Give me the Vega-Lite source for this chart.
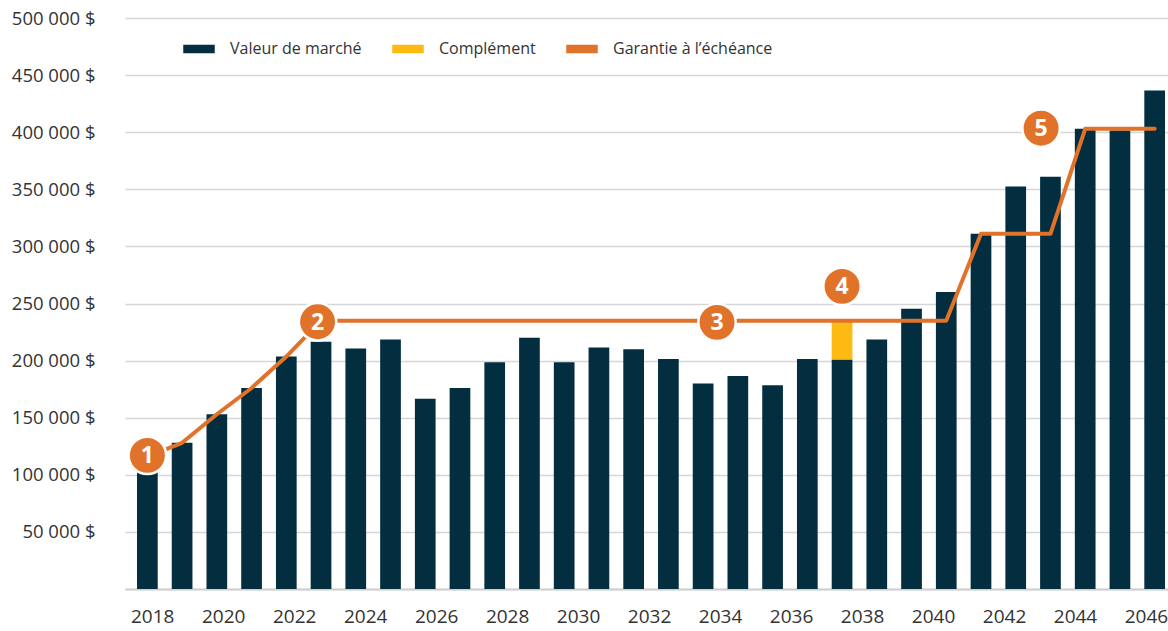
{
  "$schema": "https://vega.github.io/schema/vega-lite/v6.json",
  "width": 1043,
  "height": 571,
  "autosize": {"type": "none"},
  "padding": {"left": 125, "top": 18, "right": 0, "bottom": 42},
  "background": "white",
  "config": {
    "view": {"stroke": null},
    "font": "Open Sans",
    "axis": {"labelFont": "Open Sans", "labelColor": "#333333", "title": null},
    "legend": {"labelFont": "Open Sans"}
  },
  "datasets": {
    "barres": [
      {"annee": 2018, "serie": "Valeur de marché", "ordre": 1, "valeur": 102000},
      {"annee": 2019, "serie": "Valeur de marché", "ordre": 1, "valeur": 128000},
      {"annee": 2020, "serie": "Valeur de marché", "ordre": 1, "valeur": 153000},
      {"annee": 2021, "serie": "Valeur de marché", "ordre": 1, "valeur": 176000},
      {"annee": 2022, "serie": "Valeur de marché", "ordre": 1, "valeur": 203500},
      {"annee": 2023, "serie": "Valeur de marché", "ordre": 1, "valeur": 216500},
      {"annee": 2024, "serie": "Valeur de marché", "ordre": 1, "valeur": 210500},
      {"annee": 2025, "serie": "Valeur de marché", "ordre": 1, "valeur": 218500},
      {"annee": 2026, "serie": "Valeur de marché", "ordre": 1, "valeur": 166500},
      {"annee": 2027, "serie": "Valeur de marché", "ordre": 1, "valeur": 176000},
      {"annee": 2028, "serie": "Valeur de marché", "ordre": 1, "valeur": 198500},
      {"annee": 2029, "serie": "Valeur de marché", "ordre": 1, "valeur": 220000},
      {"annee": 2030, "serie": "Valeur de marché", "ordre": 1, "valeur": 198500},
      {"annee": 2031, "serie": "Valeur de marché", "ordre": 1, "valeur": 211500},
      {"annee": 2032, "serie": "Valeur de marché", "ordre": 1, "valeur": 210000},
      {"annee": 2033, "serie": "Valeur de marché", "ordre": 1, "valeur": 201500},
      {"annee": 2034, "serie": "Valeur de marché", "ordre": 1, "valeur": 180000},
      {"annee": 2035, "serie": "Valeur de marché", "ordre": 1, "valeur": 186500},
      {"annee": 2036, "serie": "Valeur de marché", "ordre": 1, "valeur": 178500},
      {"annee": 2037, "serie": "Valeur de marché", "ordre": 1, "valeur": 201500},
      {"annee": 2038, "serie": "Valeur de marché", "ordre": 1, "valeur": 201000},
      {"annee": 2038, "serie": "Complément", "ordre": 2, "valeur": 34000},
      {"annee": 2039, "serie": "Valeur de marché", "ordre": 1, "valeur": 218500},
      {"annee": 2040, "serie": "Valeur de marché", "ordre": 1, "valeur": 245500},
      {"annee": 2041, "serie": "Valeur de marché", "ordre": 1, "valeur": 260000},
      {"annee": 2042, "serie": "Valeur de marché", "ordre": 1, "valeur": 311000},
      {"annee": 2043, "serie": "Valeur de marché", "ordre": 1, "valeur": 352500},
      {"annee": 2044, "serie": "Valeur de marché", "ordre": 1, "valeur": 361000},
      {"annee": 2045, "serie": "Valeur de marché", "ordre": 1, "valeur": 403000},
      {"annee": 2046, "serie": "Valeur de marché", "ordre": 1, "valeur": 401500},
      {"annee": 2047, "serie": "Valeur de marché", "ordre": 1, "valeur": 436500}
    ],
    "garantie": [
      {"annee": 2018, "valeur": 116000},
      {"annee": 2019, "valeur": 128000},
      {"annee": 2020, "valeur": 153000},
      {"annee": 2021, "valeur": 176000},
      {"annee": 2022, "valeur": 203500},
      {"annee": 2023, "valeur": 235000},
      {"annee": 2024, "valeur": 235000},
      {"annee": 2025, "valeur": 235000},
      {"annee": 2026, "valeur": 235000},
      {"annee": 2027, "valeur": 235000},
      {"annee": 2028, "valeur": 235000},
      {"annee": 2029, "valeur": 235000},
      {"annee": 2030, "valeur": 235000},
      {"annee": 2031, "valeur": 235000},
      {"annee": 2032, "valeur": 235000},
      {"annee": 2033, "valeur": 235000},
      {"annee": 2034, "valeur": 235000},
      {"annee": 2035, "valeur": 235000},
      {"annee": 2036, "valeur": 235000},
      {"annee": 2037, "valeur": 235000},
      {"annee": 2038, "valeur": 235000},
      {"annee": 2039, "valeur": 235000},
      {"annee": 2040, "valeur": 235000},
      {"annee": 2041, "valeur": 235000},
      {"annee": 2042, "valeur": 311000},
      {"annee": 2043, "valeur": 311000},
      {"annee": 2044, "valeur": 311000},
      {"annee": 2045, "valeur": 403000},
      {"annee": 2046, "valeur": 403000},
      {"annee": 2047, "valeur": 403000}
    ],
    "reperes": [
      {"annee": 2018, "valeur": 117000, "n": "1"},
      {"annee": 2022.9, "valeur": 234000, "n": "2"},
      {"annee": 2034.4, "valeur": 233500, "n": "3"},
      {"annee": 2038, "valeur": 265000, "n": "4"},
      {"annee": 2043.73, "valeur": 403500, "n": "5"}
    ],
    "etiquettes": [
      {"annee": 2018}, {"annee": 2020}, {"annee": 2022}, {"annee": 2024}, {"annee": 2026},
      {"annee": 2028}, {"annee": 2030}, {"annee": 2032}, {"annee": 2034}, {"annee": 2036},
      {"annee": 2038}, {"annee": 2040}, {"annee": 2042}, {"annee": 2044}, {"annee": 2046}
    ]
  },
  "layer": [
    {
      "layer": [
        {
          "data": {"name": "barres"},
          "mark": {"type": "bar", "size": 20.7},
          "encoding": {
            "x": {"field": "annee", "type": "quantitative", "scale": {"domain": [2017.5, 2047.24], "nice": false, "zero": false}, "axis": null},
            "y": {
              "field": "valeur", "type": "quantitative", "stack": "zero",
              "scale": {"domain": [0, 500000], "nice": false},
              "axis": {
                "values": [0, 50000, 100000, 150000, 200000, 250000, 300000, 350000, 400000, 450000, 500000],
                "labelExpr": "datum.value == 0 ? '' : format(datum.value / 1000, 'd') + ' 000 $'",
                "ticks": false, "domain": false, "grid": true,
                "gridColor": "#D6D6D6", "gridWidth": 1.3,
                "labelFontSize": 18.5, "labelPadding": 30, "labelColor": "#333333"
              }
            },
            "color": {
              "field": "serie", "type": "nominal",
              "scale": {"domain": ["Valeur de marché", "Complément", "Garantie à l’échéance"], "range": ["#022E3F", "#FDBA12", "#E0722A"]},
              "legend": {
                "title": null, "orient": "none", "direction": "horizontal",
                "legendX": 58, "legendY": 15, "padding": 0,
                "symbolType": "M-1,-0.27L1,-0.27L1,0.27L-1,0.27Z", "symbolSize": 992,
                "symbolStrokeWidth": 0, "symbolOpacity": 1,
                "labelFontSize": 16, "labelColor": "#333333", "labelOffset": 15,
                "gridAlign": "none", "columnPadding": 30, "labelLimit": 400
              }
            },
            "order": {"field": "ordre", "type": "quantitative"}
          }
        },
        {
          "data": {"name": "garantie"},
          "mark": {"type": "line", "color": "#E0722A", "strokeWidth": 4, "strokeCap": "round", "strokeJoin": "round"},
          "encoding": {
            "x": {"field": "annee", "type": "quantitative"},
            "y": {"field": "valeur", "type": "quantitative"}
          }
        },
        {
          "data": {"name": "reperes"},
          "mark": {"type": "point", "shape": "circle", "filled": true, "fill": "#E0722A", "stroke": "white", "strokeWidth": 2.5, "opacity": 1, "fillOpacity": 1, "strokeOpacity": 1, "size": 1400},
          "encoding": {
            "x": {"field": "annee", "type": "quantitative"},
            "y": {"field": "valeur", "type": "quantitative"}
          }
        },
        {
          "data": {"name": "reperes"},
          "mark": {"type": "text", "color": "white", "fontSize": 23, "fontWeight": "bold", "font": "Open Sans", "align": "center", "baseline": "middle", "dy": 1},
          "encoding": {
            "x": {"field": "annee", "type": "quantitative"},
            "y": {"field": "valeur", "type": "quantitative"},
            "text": {"field": "n"}
          }
        }
      ]
    },
    {
      "data": {"name": "etiquettes"},
      "mark": {"type": "rule", "opacity": 0},
      "encoding": {
        "x": {
          "field": "annee", "type": "quantitative",
          "scale": {"domain": [2017.234, 2046.62], "nice": false, "zero": false},
          "axis": {
            "orient": "bottom",
            "values": [2018, 2020, 2022, 2024, 2026, 2028, 2030, 2032, 2034, 2036, 2038, 2040, 2042, 2044, 2046],
            "format": "d", "ticks": false, "grid": false,
            "domain": true, "domainColor": "#CFCFCF", "domainWidth": 2,
            "labelFontSize": 19, "labelPadding": 18, "labelColor": "#333333",
            "labelFlush": false, "labelOverlap": false
          }
        }
      }
    }
  ],
  "resolve": {"scale": {"x": "independent"}}
}
